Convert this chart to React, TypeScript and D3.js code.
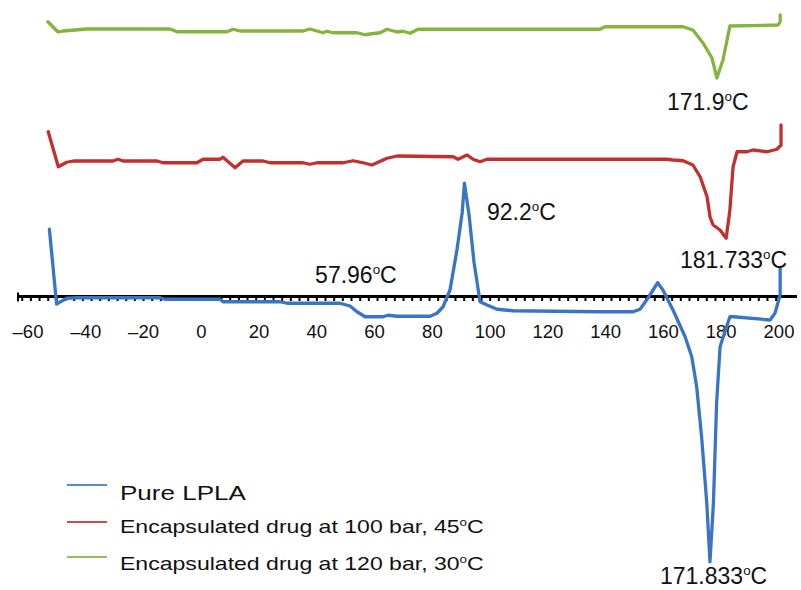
import React, { useEffect, useRef } from "react";
import * as d3 from "d3";

// DSC thermograms, temperature (°C) vs heat flow (a.u., curves stacked)
const pureTemp = [-52.6, -50.1, -46.6, -43.1, -14.3, -12.6, 6.5, 7.5, 27.2, 29.7, 48.0, 51.5, 53.9, 56.7, 62.9, 64.6, 67.8, 79.2, 81.6, 83.7, 86.1, 88.5, 90.3, 91.1, 92.7, 94.4, 96.5, 98.9, 102.4, 107.9, 137.0, 149.5, 151.9, 154.6, 158.0, 159.8, 163.3, 167.5, 169.8, 171.5, 173.2, 175.0, 176.1, 177.3, 178.4, 179.6, 180.7, 183.0, 184.2, 196.9, 198.6, 200.4, 200.4];
const pureHeat = [2.69, -0.3, -0.07, -0.05, -0.05, -0.11, -0.11, -0.21, -0.21, -0.27, -0.27, -0.38, -0.61, -0.81, -0.81, -0.75, -0.79, -0.79, -0.67, -0.41, 0.26, 1.86, 3.34, 4.53, 3.26, 1.38, -0.21, -0.34, -0.51, -0.57, -0.61, -0.61, -0.51, -0.07, 0.55, 0.26, -0.54, -1.61, -2.41, -3.61, -5.61, -8.26, -10.61, -8.26, -4.26, -2.01, -1.61, -0.81, -0.81, -0.94, -0.67, 0.06, 1.14];

const bar100Temp = [-53.0, -49.5, -46.6, -44.3, -30.6, -28.8, -27.1, -15.3, -13.3, -1.5, 0.6, 6.5, 7.5, 9.9, 11.7, 14.4, 21.4, 23.8, 35.2, 37.6, 40.1, 49.1, 52.5, 56.0, 59.1, 61.2, 64.3, 67.8, 87.2, 88.9, 92.0, 94.1, 96.5, 98.9, 161.2, 163.3, 166.8, 170.2, 172.7, 175.1, 176.1, 177.2, 179.6, 181.7, 183.0, 184.1, 185.5, 188.9, 191.0, 195.9, 199.3, 200.7, 200.7];
const bar100Heat = [6.59, 5.19, 5.37, 5.42, 5.42, 5.49, 5.42, 5.42, 5.35, 5.35, 5.49, 5.49, 5.57, 5.33, 5.15, 5.42, 5.42, 5.35, 5.35, 5.29, 5.35, 5.35, 5.43, 5.35, 5.26, 5.37, 5.53, 5.62, 5.59, 5.49, 5.66, 5.49, 5.39, 5.49, 5.49, 5.46, 5.43, 5.26, 4.79, 3.99, 3.19, 2.86, 2.66, 2.33, 3.46, 5.19, 5.79, 5.79, 5.86, 5.79, 5.89, 6.06, 6.86];

const bar120Temp = [-53.1, -49.6, -47.9, -39.6, -10.8, -8.4, 8.9, 11.0, 13.4, 35.2, 37.6, 42.1, 43.5, 45.6, 53.9, 56.7, 58.4, 61.9, 64.3, 67.8, 69.8, 72.3, 75.0, 138.0, 139.8, 166.8, 170.2, 173.7, 176.8, 178.5, 180.6, 183.0, 199.7, 200.4, 200.4];
const bar120Heat = [10.99, 10.58, 10.62, 10.7, 10.7, 10.59, 10.59, 10.69, 10.62, 10.62, 10.7, 10.55, 10.61, 10.55, 10.55, 10.47, 10.5, 10.55, 10.69, 10.58, 10.61, 10.53, 10.69, 10.69, 10.79, 10.79, 10.66, 10.14, 9.54, 8.74, 9.46, 10.82, 10.86, 10.99, 11.26];

const xTickValues = [-60, -40, -20, 0, 20, 40, 60, 80, 100, 120, 140, 160, 180, 200];

const seriesNames = ["Pure LPLA", "Encapsulated drug at 100 bar, 45", "Encapsulated drug at 120 bar, 30"];
const seriesColors = ["#3a75c4", "#c0302f", "#84b33e"];

// peak labels: value text, anchor temperature, anchor heat flow
const peakText = ["171.9", "92.2", "181.733", "57.96", "171.833"];
const peakTemp = [161.2, 98.9, 165.7, 39.4, 158.8];
const peakHeat = [7.46, 3.06, 1.14, 0.54, -11.5];

const W = 801;
const H = 590;

const App: React.FC = () => {
  const ref = useRef<SVGSVGElement | null>(null);

  useEffect(() => {
    if (!ref.current) return;
    const svg = d3.select(ref.current);
    svg.selectAll("*").remove();

    const x = d3.scaleLinear().domain([-60, 200]).range([28, 779]);
    const y = d3.scaleLinear().domain([-11.74, 11.86]).range([H, 0]);
    const y0 = y(0);
    const font = "'Liberation Sans', Arial, sans-serif";

    // x axis line with small ticks underneath
    svg.append("line")
      .attr("x1", 17).attr("x2", 797)
      .attr("y1", y0).attr("y2", y0)
      .attr("stroke", "#000").attr("stroke-width", 3);
    svg.append("line")
      .attr("x1", 18).attr("x2", 18)
      .attr("y1", y0 - 4).attr("y2", y0 + 5)
      .attr("stroke", "#000").attr("stroke-width", 2);
    svg.append("g")
      .selectAll("line")
      .data(d3.range(-62, 202, 3))
      .join("line")
      .attr("x1", (d) => x(d)).attr("x2", (d) => x(d))
      .attr("y1", y0).attr("y2", y0 + 4.5)
      .attr("stroke", "#000").attr("stroke-width", 2);

    svg.append("g")
      .selectAll("text")
      .data(xTickValues)
      .join("text")
      .attr("x", (d) => x(d))
      .attr("y", 338)
      .attr("text-anchor", "middle")
      .attr("font-family", font)
      .attr("font-size", 18.5)
      .attr("fill", "#111")
      .text((d) => (d < 0 ? "\u2013" + Math.abs(d) : String(d)));

    // curves
    const line = d3.line<[number, number]>()
      .x((d) => x(d[0]))
      .y((d) => y(d[1]));
    const series: [number, number][][] = [
      d3.zip(pureTemp, pureHeat) as [number, number][],
      d3.zip(bar100Temp, bar100Heat) as [number, number][],
      d3.zip(bar120Temp, bar120Heat) as [number, number][],
    ];
    series.forEach((pts, i) => {
      svg.append("path")
        .attr("d", line(pts) || "")
        .attr("fill", "none")
        .attr("stroke", seriesColors[i])
        .attr("stroke-width", 3.3)
        .attr("stroke-linejoin", "round")
        .attr("stroke-linecap", "round");
    });

    // peak annotations with superscript degree
    const addDegree = (sel: d3.Selection<SVGTextElement, unknown, null, undefined>, value: string, size: number) => {
      sel.append("tspan").text(value);
      sel.append("tspan").attr("font-size", size * 0.58).attr("dy", -size * 0.38).text("o");
      sel.append("tspan").attr("dy", size * 0.38).text("C");
    };
    peakText.forEach((t, i) => {
      const txt = svg.append("text")
        .attr("x", x(peakTemp[i]))
        .attr("y", y(peakHeat[i]))
        .attr("font-family", font)
        .attr("font-size", 23)
        .attr("fill", "#111");
      addDegree(txt as any, t, 23);
    });

    // legend
    const legY = [485, 522, 557];
    const legBase = [500, 533, 570];
    const legSize = [21, 18.6, 18.6];
    seriesNames.forEach((name, i) => {
      svg.append("line")
        .attr("x1", 67).attr("x2", 107)
        .attr("y1", legY[i]).attr("y2", legY[i])
        .attr("stroke", seriesColors[i])
        .attr("stroke-width", 2.2)
        .attr("opacity", 0.85);
      const txt = svg.append("text")
        .attr("transform", `translate(120,${legBase[i]}) scale(1.24,1)`)
        .attr("font-family", font)
        .attr("font-size", legSize[i])
        .attr("fill", "#111");
      if (i === 0) txt.text(name);
      else addDegree(txt as any, name, legSize[i]);
    });
  }, []);

  return (
    <svg
      ref={ref}
      width={W}
      height={H}
      style={{ position: "absolute", left: 0, top: 0, background: "#fff" }}
    />
  );
};

export default App;
